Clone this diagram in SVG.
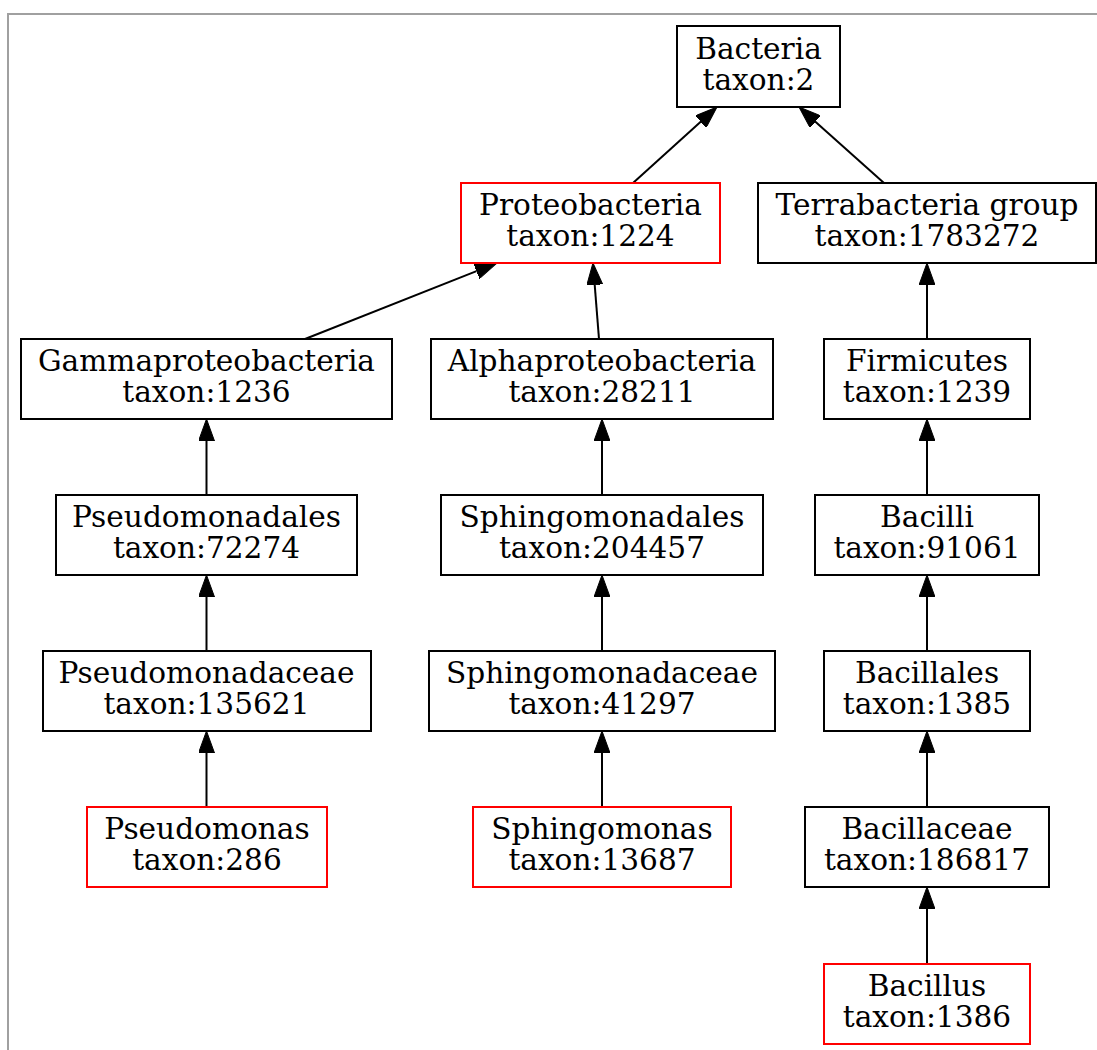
<svg xmlns="http://www.w3.org/2000/svg" width="1097" height="1050" viewBox="0 0 1097 1050">
<style>
.n rect{fill:#fff;stroke:#000;stroke-width:2}
.n.r rect{stroke:#ff0000}
.n text{font-family:'DejaVu Serif',serif;font-size:29.6px;fill:#000;text-anchor:middle}
.e path{fill:none;stroke:#000;stroke-width:2;marker-end:url(#ah)}
</style>
<defs>
<marker id="ah" markerUnits="userSpaceOnUse" viewBox="0 -8 22 16" refX="0" refY="0" markerWidth="22" markerHeight="16" orient="auto">
<path d="M0,-8 L22,0 L0,8 z" fill="#000" stroke="#000" stroke-width="1"/>
</marker>
</defs>
<rect x="0" y="0" width="1097" height="1050" fill="#fff"/>
<path d="M8,1050 V14 H1097" fill="none" stroke="#a0a0a0" stroke-width="2"/>
<g id="edges" class="e">
<path d="M633,183 L700.7,121.8"/>
<path d="M884,183 L815.4,121.7"/>
<path d="M305,339 L476.5,271.1"/>
<path d="M599,339 L594.7,284.9"/>
<path d="M927,339 V285"/>
<path d="M206.5,495 V441"/>
<path d="M206.5,651 V597"/>
<path d="M206.5,807 V753"/>
<path d="M602,495 V441"/>
<path d="M602,651 V597"/>
<path d="M602,807 V753"/>
<path d="M927,495 V441"/>
<path d="M927,651 V597"/>
<path d="M927,807 V753"/>
<path d="M927,964 V909"/>
</g>
<g id="bacteria" class="n"><rect x="677" y="26" width="163" height="81"/><text x="758.5" y="58.5">Bacteria</text><text x="758.5" y="89.5">taxon:2</text></g>
<g id="proteobacteria" class="n r"><rect x="461" y="183" width="259" height="80"/><text x="590.5" y="215">Proteobacteria</text><text x="590.5" y="246">taxon:1224</text></g>
<g id="terrabacteria" class="n"><rect x="758" y="183" width="338" height="80"/><text x="927" y="215">Terrabacteria group</text><text x="927" y="246">taxon:1783272</text></g>
<g id="gammaproteobacteria" class="n"><rect x="21" y="339" width="371" height="80"/><text x="206.5" y="371">Gammaproteobacteria</text><text x="206.5" y="402">taxon:1236</text></g>
<g id="alphaproteobacteria" class="n"><rect x="431" y="339" width="342" height="80"/><text x="602" y="371">Alphaproteobacteria</text><text x="602" y="402">taxon:28211</text></g>
<g id="firmicutes" class="n"><rect x="824" y="339" width="206" height="80"/><text x="927" y="371">Firmicutes</text><text x="927" y="402">taxon:1239</text></g>
<g id="pseudomonadales" class="n"><rect x="56" y="495" width="301" height="80"/><text x="206.5" y="527">Pseudomonadales</text><text x="206.5" y="558">taxon:72274</text></g>
<g id="sphingomonadales" class="n"><rect x="441" y="495" width="322" height="80"/><text x="602" y="527">Sphingomonadales</text><text x="602" y="558">taxon:204457</text></g>
<g id="bacilli" class="n"><rect x="815" y="495" width="224" height="80"/><text x="927" y="527">Bacilli</text><text x="927" y="558">taxon:91061</text></g>
<g id="pseudomonadaceae" class="n"><rect x="43" y="651" width="328" height="80"/><text x="206.5" y="683">Pseudomonadaceae</text><text x="206.5" y="714">taxon:135621</text></g>
<g id="sphingomonadaceae" class="n"><rect x="429" y="651" width="346" height="80"/><text x="602" y="683">Sphingomonadaceae</text><text x="602" y="714">taxon:41297</text></g>
<g id="bacillales" class="n"><rect x="824" y="651" width="206" height="80"/><text x="927" y="683">Bacillales</text><text x="927" y="714">taxon:1385</text></g>
<g id="pseudomonas" class="n r"><rect x="87" y="807" width="240" height="80"/><text x="207" y="839">Pseudomonas</text><text x="207" y="870">taxon:286</text></g>
<g id="sphingomonas" class="n r"><rect x="473" y="807" width="258" height="80"/><text x="602" y="839">Sphingomonas</text><text x="602" y="870">taxon:13687</text></g>
<g id="bacillaceae" class="n"><rect x="805" y="807" width="244" height="80"/><text x="927" y="839">Bacillaceae</text><text x="927" y="870">taxon:186817</text></g>
<g id="bacillus" class="n r"><rect x="824" y="964" width="206" height="80"/><text x="927" y="996">Bacillus</text><text x="927" y="1027">taxon:1386</text></g>
</svg>
